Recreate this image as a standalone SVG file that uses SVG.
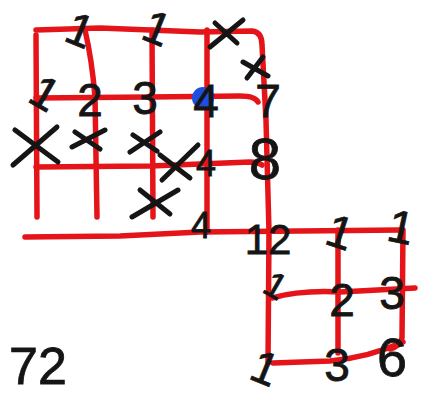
<svg xmlns="http://www.w3.org/2000/svg" width="423" height="397" viewBox="0 0 423 397">
<style>
.r{fill:none;stroke:#e51419;stroke-width:5.5;stroke-linecap:round;stroke-linejoin:round}
.x{fill:none;stroke:#151515;stroke-width:5;stroke-linecap:round}
.n{font-family:"Liberation Sans",Arial,sans-serif;font-size:46px;fill:#151515;stroke:#151515;stroke-width:0.8;text-anchor:middle}
</style>
<rect width="423" height="397" fill="#fff"/>
<g id="grid">
<path class="r" d="M36,30 L100,28 L200,32 L252,31 Q262,32 262,45 L266,120 L269,232 L268,363"/>
<path class="r" d="M36,35 L37,217"/>
<path class="r" d="M85,30 Q92,60 95,97 L97,217"/>
<path class="r" d="M152,30 L153,217"/>
<path class="r" d="M207,30 L207,232"/>
<path class="r" d="M36,98 L150,97 L240,96 Q255,96 258,102"/>
<path class="r" d="M36,167 L150,166 L250,162 Q258,162 262,165"/>
<path class="r" d="M25,237 L120,236 L200,232 L300,231 L400,230"/>
<path class="r" d="M338,230 L338,353"/>
<path class="r" d="M403,230 L402,338 Q400,346 390,349"/>
<path class="r" d="M272,298 Q300,290 340,292 L415,288"/>
<path class="r" d="M273,363 L330,361 Q370,357 403,342"/>
</g>
<circle id="dot" cx="203" cy="98" r="11" fill="#1f4ee0"/>
<g id="marks">
<path class="x" d="M210,47 L243,20 M215,23 L237,43"/>
<path class="x" d="M243,62 L268,76 M247,78 L263,57"/>
<path class="x" d="M13,165 L57,127 M15,130 L58,162"/>
<path class="x" d="M72,147 L105,130 M75,132 L100,149"/>
<path class="x" d="M130,152 L160,132 M133,135 L157,151"/>
<path class="x" d="M162,180 L198,145 M160,155 L190,178"/>
<path class="x" d="M132,217 L178,190 M140,190 L170,214"/>
</g>
<g id="labels">
<text class="n" x="80" y="46" transform="rotate(22 80 30)">1</text>
<text class="n" x="157" y="44" transform="rotate(22 157 28)">1</text>
<text class="n" x="45" y="109" transform="rotate(30 45 93)">1</text>
<text class="n" x="90" y="116">2</text>
<text class="n" x="145" y="114">3</text>
<text class="n" x="206" y="117">4</text>
<text class="n" x="268" y="117">7</text>
<text class="n" x="265" y="179" style="font-size:58px">8</text>
<text class="n" x="206" y="176" style="font-size:36px">4</text>
<text class="n" x="201" y="238" style="font-size:36px">4</text>
<text class="n" x="268" y="254" style="font-size:42px">12</text>
<text class="n" x="340" y="248" transform="rotate(18 340 232)">1</text>
<text class="n" x="401" y="243" transform="rotate(12 401 227)">1</text>
<text class="n" x="276" y="298" style="font-size:36px" transform="rotate(30 276 285)">1</text>
<text class="n" x="342" y="316">2</text>
<text class="n" x="392" y="309">3</text>
<text class="n" x="265" y="384" transform="rotate(22 265 368)">1</text>
<text class="n" x="337" y="381">3</text>
<text class="n" x="392" y="376" style="font-size:54px">6</text>
<text class="n" x="38" y="384" style="font-size:52px">72</text>
</g>
</svg>
